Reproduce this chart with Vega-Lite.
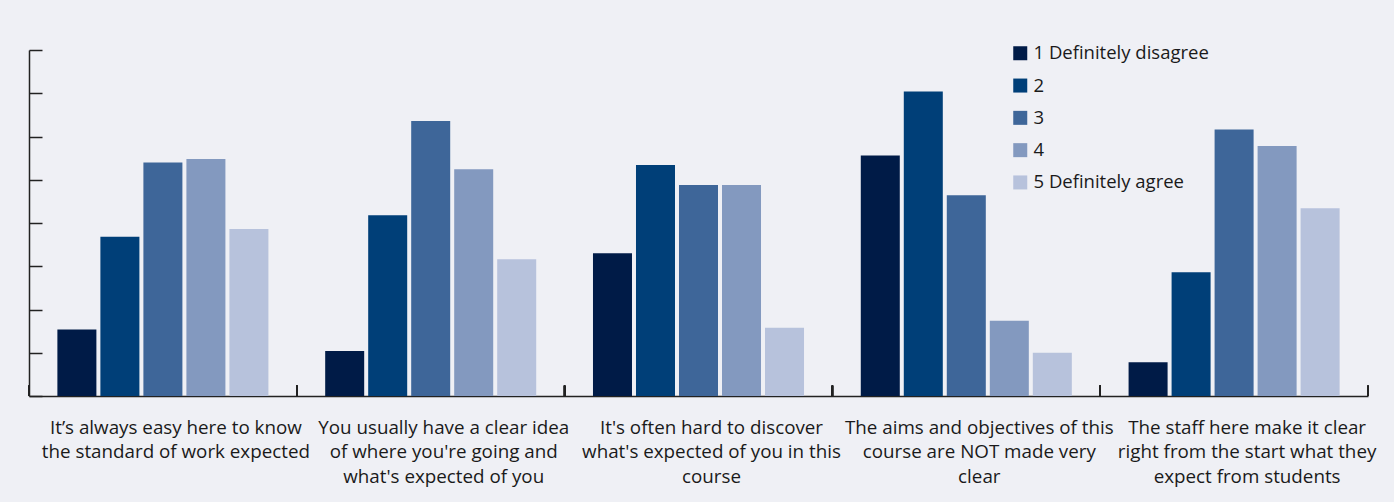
{
  "$schema": "https://vega.github.io/schema/vega-lite/v6.json",
  "width": 1339,
  "height": 346,
  "autosize": {"type": "none"},
  "padding": {"left": 29, "top": 50, "right": 26, "bottom": 106},
  "background": "#eff0f5",
  "config": {
    "view": {"stroke": null},
    "font": "Open Sans",
    "axis": {"domainColor": "#222222", "tickColor": "#222222", "domainWidth": 1.5, "tickWidth": 1.5, "grid": false, "title": null}
  },
  "data": {
    "values": [
      {"q": "It’s always easy here to know|the standard of work expected", "r": "1 Definitely disagree", "v": 7.7},
      {"q": "It’s always easy here to know|the standard of work expected", "r": "2", "v": 18.4},
      {"q": "It’s always easy here to know|the standard of work expected", "r": "3", "v": 27.0},
      {"q": "It’s always easy here to know|the standard of work expected", "r": "4", "v": 27.4},
      {"q": "It’s always easy here to know|the standard of work expected", "r": "5 Definitely agree", "v": 19.3},
      {"q": "You usually have a clear idea|of where you're going and|what's expected of you", "r": "1 Definitely disagree", "v": 5.2},
      {"q": "You usually have a clear idea|of where you're going and|what's expected of you", "r": "2", "v": 20.9},
      {"q": "You usually have a clear idea|of where you're going and|what's expected of you", "r": "3", "v": 31.8},
      {"q": "You usually have a clear idea|of where you're going and|what's expected of you", "r": "4", "v": 26.2},
      {"q": "You usually have a clear idea|of where you're going and|what's expected of you", "r": "5 Definitely agree", "v": 15.8},
      {"q": "It's often hard to discover|what's expected of you in this|course", "r": "1 Definitely disagree", "v": 16.5},
      {"q": "It's often hard to discover|what's expected of you in this|course", "r": "2", "v": 26.7},
      {"q": "It's often hard to discover|what's expected of you in this|course", "r": "3", "v": 24.4},
      {"q": "It's often hard to discover|what's expected of you in this|course", "r": "4", "v": 24.4},
      {"q": "It's often hard to discover|what's expected of you in this|course", "r": "5 Definitely agree", "v": 7.9},
      {"q": "The aims and objectives of this|course are NOT made very|clear", "r": "1 Definitely disagree", "v": 27.8},
      {"q": "The aims and objectives of this|course are NOT made very|clear", "r": "2", "v": 35.2},
      {"q": "The aims and objectives of this|course are NOT made very|clear", "r": "3", "v": 23.2},
      {"q": "The aims and objectives of this|course are NOT made very|clear", "r": "4", "v": 8.7},
      {"q": "The aims and objectives of this|course are NOT made very|clear", "r": "5 Definitely agree", "v": 5.0},
      {"q": "The staff here make it clear|right from the start what they|expect from students", "r": "1 Definitely disagree", "v": 3.9},
      {"q": "The staff here make it clear|right from the start what they|expect from students", "r": "2", "v": 14.3},
      {"q": "The staff here make it clear|right from the start what they|expect from students", "r": "3", "v": 30.8},
      {"q": "The staff here make it clear|right from the start what they|expect from students", "r": "4", "v": 28.9},
      {"q": "The staff here make it clear|right from the start what they|expect from students", "r": "5 Definitely agree", "v": 21.7}
    ]
  },
  "encoding": {
    "x": {
      "field": "q", "type": "nominal", "sort": null,
      "scale": {"paddingInner": 0, "paddingOuter": 0},
      "axis": {
        "labelAngle": 0,
        "labelExpr": "split(datum.label, '|')",
        "labelFontSize": 18.8,
        "labelColor": "#1a1a1a",
        "labelLineHeight": 24.5,
        "labelBaseline": "top",
        "labelPadding": 22,
        "labelOffset": 13,
        "labelLimit": 0,
        "ticks": false
      }
    }
  },
  "layer": [
    {
      "mark": {"type": "bar"},
      "encoding": {
        "xOffset": {
          "field": "r", "type": "nominal",
          "scale": {"paddingInner": 0.093, "paddingOuter": 0.66}
        },
        "y": {
          "field": "v", "type": "quantitative",
          "scale": {"domain": [0, 40], "nice": false},
          "axis": {"values": [0, 5, 10, 15, 20, 25, 30, 35, 40], "labels": false, "tickSize": -13}
        },
        "color": {
          "field": "r", "type": "nominal",
          "scale": {
            "domain": ["1 Definitely disagree", "2", "3", "4", "5 Definitely agree"],
            "range": ["#001b47", "#003f78", "#3e6699", "#8399bf", "#b7c2dc"]
          },
          "legend": {
            "title": null,
            "orient": "none",
            "legendX": 982,
            "legendY": -6,
            "symbolType": "square",
            "symbolSize": 196,
            "symbolStrokeWidth": 0,
            "labelFontSize": 18.5,
            "labelLimit": 0,
            "labelColor": "#1a1a1a",
            "labelOffset": 4,
            "rowPadding": 13.3
          }
        }
      }
    },
    {
      "mark": {"type": "rule", "color": "#222222", "strokeWidth": 1.5},
      "encoding": {
        "x": {"field": "q", "type": "nominal", "sort": null, "bandPosition": 0},
        "y": {"datum": 0, "type": "quantitative"},
        "y2": {"datum": 1.2}
      }
    },
    {
      "mark": {"type": "rule", "color": "#222222", "strokeWidth": 1.5},
      "encoding": {
        "x": {"field": "q", "type": "nominal", "sort": null, "bandPosition": 1},
        "y": {"datum": 0, "type": "quantitative"},
        "y2": {"datum": 1.2}
      }
    }
  ]
}
